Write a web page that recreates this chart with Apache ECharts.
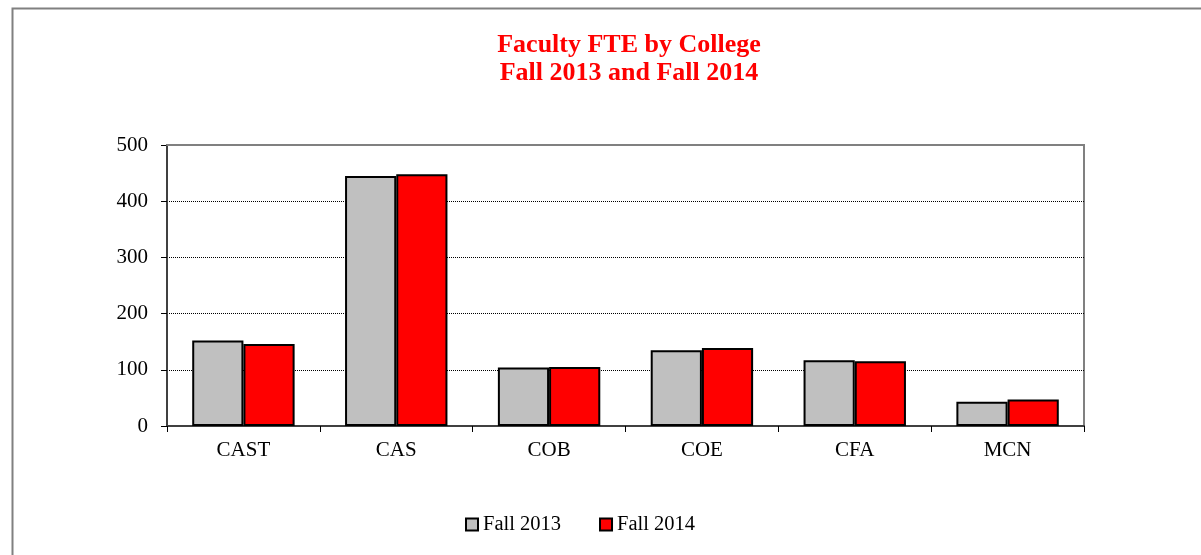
<!DOCTYPE html>
<html>
<head>
<meta charset="utf-8">
<script src="https://cdn.jsdelivr.net/npm/echarts@6/dist/echarts.min.js"></script>
<style>
html, body { margin: 0; padding: 0; background: #fff; }
#chart { width: 1201px; height: 555px; }
</style>
</head>
<body>
<div id="chart"></div>
<script>
// colleges on the x axis
const colleges = ['CAST', 'CAS', 'COB', 'COE', 'CFA', 'MCN']
// faculty FTE
const fall2013 = [152, 445, 104, 135, 117, 43]
const fall2014 = [146, 448, 105, 139, 115, 47]
const yTicks = { min: 0, max: 500, interval: 100 }

const chart = echarts.init(document.getElementById('chart'))
const serif = '"Liberation Serif", "Times New Roman", serif'

const barStyle = (color) => ({
    color: color,
    borderColor: '#000',
    borderWidth: 2
})

chart.setOption({
    backgroundColor: '#fff',
    textStyle: { fontFamily: serif },
    title: {
        text: 'Faculty FTE by College\nFall 2013 and Fall 2014',
        left: 624,
        top: 26,
        textAlign: 'center',
        textStyle: {
            color: '#ff0000',
            fontFamily: serif,
            fontWeight: 'bold',
            fontSize: 26,
            lineHeight: 28
        }
    },
    // outer chart frame, only its top and left edges are in view
    graphic: [{
        type: 'rect',
        left: 10,
        top: 6,
        shape: { width: 1400, height: 800 },
        style: { fill: 'none', stroke: '#808080', lineWidth: 2 },
        silent: true
    }],
    legend: {
        left: 460,
        top: 509,
        icon: 'rect',
        itemWidth: 12,
        itemHeight: 12,
        itemGap: 38,
        textStyle: { fontFamily: serif, fontSize: 20.5, color: '#000' },
        data: ['Fall 2013', 'Fall 2014']
    },
    grid: {
        left: 167,
        right: 117,
        top: 145,
        bottom: 129,
        show: true,
        borderColor: '#808080',
        borderWidth: 2,
        backgroundColor: '#fff'
    },
    xAxis: [
        {
            type: 'category',
            data: colleges,
            axisLine: { lineStyle: { color: '#404040', width: 2 } },
            axisTick: { show: true, inside: false, length: 6, alignWithLabel: false, lineStyle: { color: '#000' } },
            axisLabel: { color: '#000', fontSize: 21, fontFamily: serif, margin: 14 }
        },
        {
            // gray top edge of the plot, drawn over the 500 grid line
            type: 'category',
            position: 'top',
            data: colleges,
            z: 5,
            axisLine: { show: true, lineStyle: { color: '#808080', width: 2 } },
            axisTick: { show: false },
            axisLabel: { show: false }
        }
    ],
    yAxis: {
        type: 'value',
        min: yTicks.min,
        max: yTicks.max,
        interval: yTicks.interval,
        axisLine: { show: true, lineStyle: { color: '#404040', width: 2 } },
        axisTick: { show: true, length: 6, lineStyle: { color: '#000' } },
        axisLabel: { color: '#000', fontSize: 21, fontFamily: serif, margin: 19 },
        splitLine: { lineStyle: { color: '#000', type: [1, 1], width: 1 } }
    },
    series: [
        {
            name: 'Fall 2013',
            type: 'bar',
            data: fall2013,
            barGap: '0%',
            barCategoryGap: '33%',
            itemStyle: barStyle('#c0c0c0')
        },
        {
            name: 'Fall 2014',
            type: 'bar',
            data: fall2014,
            barGap: '0%',
            barCategoryGap: '33%',
            itemStyle: barStyle('#ff0000')
        }
    ]
})
</script>
</body>
</html>
